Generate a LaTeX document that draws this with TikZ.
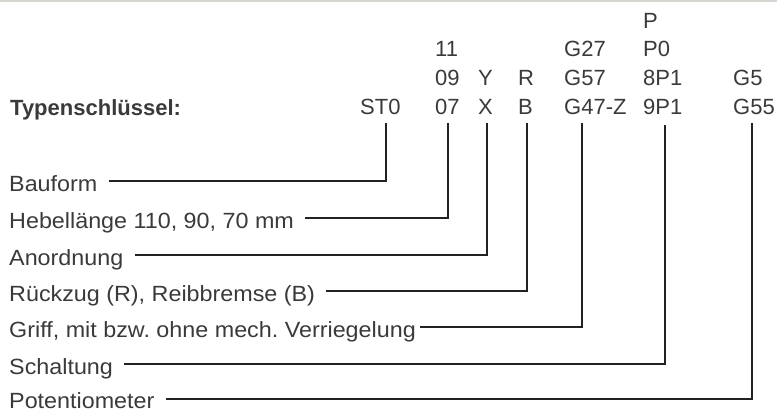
\documentclass[tikz,border=0pt]{standalone}
\usepackage{fontspec}
\setmainfont{Liberation Sans}[FakeStretch=1.06]
\newfontfamily\titlefont{Liberation Sans}
\newfontfamily\codefont{Liberation Sans}
\frenchspacing
\definecolor{txt}{HTML}{3A3A3A}
\definecolor{ln}{HTML}{222222}
\definecolor{topline}{HTML}{D6D6D0}
\tikzset{
  lbl/.style={anchor=base west,inner sep=0pt,text=txt,font=\fontsize{22}{22}\selectfont},
  codetxt/.style={anchor=base west,inner sep=0pt,text=txt,font=\codefont\fontsize{22}{22}\selectfont},
  title/.style={anchor=base west,inner sep=0pt,text=txt,font=\titlefont\fontsize{22}{22}\selectfont\bfseries},
  conn/.style={draw=ln,line width=1.6pt},
}
\begin{document}
\begin{tikzpicture}[x=1pt,y=-1pt]
\useasboundingbox (0,0) rectangle (777,412);
\fill[topline] (0,0) rectangle (777,1.6);

% title
\node[title] (title) at (10,115) {Typenschlüssel:};

% codes
\node[codetxt] (c1a) at (360,114) {ST0};
\node[codetxt] (c2a) at (435,57) {11};
\node[codetxt] (c2b) at (435,86) {09};
\node[codetxt] (c2c) at (435,114) {07};
\node[codetxt] (c3a) at (478,86) {Y};
\node[codetxt] (c3b) at (478,114) {X};
\node[codetxt] (c4a) at (518,86) {R};
\node[codetxt] (c4b) at (518,114) {B};
\node[codetxt] (c5a) at (564,57) {G27};
\node[codetxt] (c5b) at (564,86) {G57};
\node[codetxt] (c5c) at (564,114) {G47-Z};
\node[codetxt] (c6a) at (643,29) {P};
\node[codetxt] (c6b) at (643,57) {P0};
\node[codetxt] (c6c) at (643,86) {8P1};
\node[codetxt] (c6d) at (643,114) {9P1};
\node[codetxt] (c7a) at (733,86) {G5};
\node[codetxt] (c7b) at (733,114) {G55};

% vertical line tops
\coordinate (v1) at (386,123);
\coordinate (v2) at (448,123);
\coordinate (v3) at (487,123);
\coordinate (v4) at (527,123);
\coordinate (v5) at (582,123);
\coordinate (v6) at (665,125);
\coordinate (v7) at (752,123);

% labels
\node[lbl] (l1) at (9,191) {Bauform};
\node[lbl] (l2) at (9,228) {Hebellänge 110, 90, 70 mm};
\node[lbl] (l3) at (9,265) {Anordnung};
\node[lbl] (l4) at (9,301) {Rückzug (R), Reibbremse (B)};
\node[lbl] (l5) at (9,337) {Griff, mit bzw. ohne mech. Verriegelung};
\node[lbl] (l6) at (9,374) {Schaltung};
\node[lbl] (l7) at (9,408) {Potentiometer};

% connectors
\draw[conn] (v1) |- ([xshift=11pt,yshift=10pt]l1.base east);
\draw[conn] (v2) |- ([xshift=11pt,yshift=10pt]l2.base east);
\draw[conn] (v3) |- ([xshift=11pt,yshift=10pt]l3.base east);
\draw[conn] (v4) |- ([xshift=11pt,yshift=10pt]l4.base east);
\draw[conn] (v5) |- ([xshift=4pt,yshift=10pt]l5.base east);
\draw[conn] (v6) |- ([xshift=11pt,yshift=10pt]l6.base east);
\draw[conn] (v7) |- ([xshift=11pt,yshift=9pt]l7.base east);
\end{tikzpicture}
\end{document}
